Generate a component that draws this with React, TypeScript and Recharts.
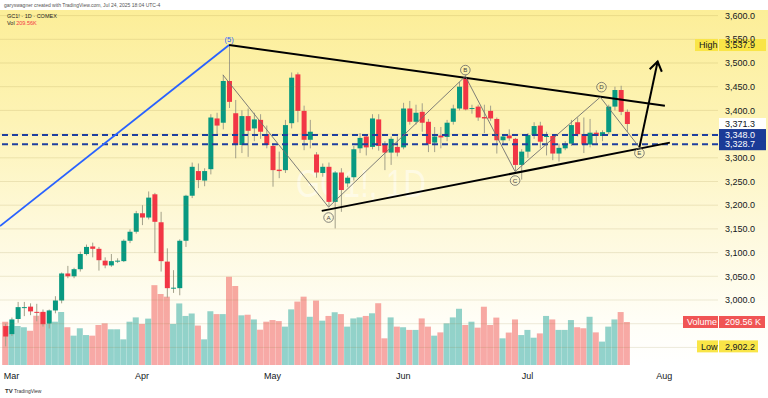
import React from 'react';
import { ComposedChart, Bar, XAxis, YAxis, ReferenceLine, ReferenceDot, Cell } from 'recharts';

// ---------- data (daily bars, index 0 = Feb 28 2025 ... 100 = Jul 24 2025) ----------
const openP = [
  2945, 2928, 2960, 2983, 2986, 2975, 2975, 2950, 2978, 2999,
  3056, 3050, 3065, 3097, 3113, 3108, 3083, 3073, 3081, 3082,
  3125, 3144, 3183, 3174, 3223, 3164, 3081, 3024, 3025, 3125,
  3220, 3272, 3252, 3276, 3383, 3374, 3462, 3394, 3327, 3388,
  3362, 3380, 3350, 3325, 3275, 3274, 3373, 3476, 3399, 3338,
  3307, 3268, 3281, 3207, 3269, 3246, 3259, 3320, 3345, 3323,
  3381, 3327, 3311, 3323, 3322, 3404, 3376, 3397, 3376, 3332,
  3347, 3344, 3376, 3404, 3468, 3403, 3408, 3386, 3399, 3382,
  3337, 3347, 3340, 3285, 3313, 3348, 3368, 3345, 3346, 3309,
  3320, 3330, 3375, 3350, 3328, 3353, 3346, 3354, 3408, 3443,
  3397,
];
const highP = [
  2950, 2963, 2996, 2996, 2993, 2992, 2980, 2980, 3008, 3058,
  3072, 3068, 3102, 3117, 3121, 3112, 3090, 3097, 3088, 3128,
  3149, 3188, 3200, 3229, 3226, 3186, 3109, 3063, 3128, 3222,
  3290, 3288, 3278, 3392, 3395, 3475, 3537.9, 3422, 3400, 3404,
  3395, 3392, 3368, 3330, 3313, 3380, 3480, 3480, 3410, 3380,
  3312, 3288, 3290, 3272, 3278, 3262, 3325, 3352, 3350, 3392,
  3392, 3335, 3345, 3345, 3416, 3420, 3412, 3415, 3382, 3365,
  3365, 3380, 3412, 3460, 3476, 3412, 3412, 3412, 3410, 3385,
  3350, 3360, 3342, 3318, 3352, 3375, 3376, 3355, 3350, 3330,
  3335, 3380, 3385, 3385, 3382, 3358, 3358, 3412, 3450, 3452,
  3402,
];
const lowP = [
  2902.2, 2924, 2952, 2966, 2968, 2955, 2944, 2940, 2972, 2993,
  3046, 3046, 3060, 3094, 3090, 3062, 3067, 3070, 3078, 3080,
  3120, 3140, 3158, 3170, 3099, 3060, 3005, 3015, 3010, 3112,
  3215, 3236, 3240, 3265, 3350, 3360, 3405, 3299, 3310, 3302,
  3335, 3340, 3320, 3239, 3257, 3268, 3362, 3375, 3316, 3320,
  3258, 3260, 3196, 3151, 3186, 3238, 3252, 3310, 3305, 3318,
  3315, 3274, 3285, 3303, 3318, 3370, 3370, 3355, 3312, 3312,
  3320, 3335, 3370, 3400, 3400, 3393, 3378, 3352, 3378, 3309,
  3330, 3336, 3271, 3254, 3300, 3340, 3320, 3305, 3295, 3292,
  3316, 3325, 3345, 3310, 3322, 3330, 3335, 3350, 3400, 3390,
  3355,
];
const closeP = [
  2923, 2959, 2985, 2985, 2976, 2973, 2949, 2978, 2999, 3056,
  3050, 3065, 3097, 3112, 3108, 3084, 3073, 3082, 3083, 3125,
  3144, 3183, 3174, 3216, 3165, 3082, 3025, 3026, 3125, 3220,
  3281, 3253, 3272, 3385, 3368, 3462, 3418, 3327, 3388, 3357,
  3381, 3355, 3327, 3274, 3272, 3369, 3469, 3399, 3338, 3355,
  3269, 3281, 3207, 3269, 3232, 3258, 3318, 3342, 3322, 3383,
  3325, 3311, 3340, 3311, 3404, 3376, 3395, 3374, 3329, 3345,
  3343, 3374, 3404, 3450, 3402, 3405, 3385, 3383, 3383, 3337,
  3345, 3341, 3285, 3313, 3348, 3367, 3334, 3346, 3309, 3321,
  3330, 3369, 3350, 3328, 3353, 3346, 3354, 3408, 3443, 3397,
  3371.3,
];
const volumeK = [
  211, 190, 190, 184, 167, 240, 257, 200, 211, 258,
  184, 143, 179, 146, 143, 195, 203, 174, 174, 125,
  211, 232, 200, 226, 389, 346, 333, 200, 300, 239,
  251, 192, 125, 262, 248, 248, 430, 385, 242, 245,
  222, 172, 211, 219, 214, 187, 271, 309, 333, 235,
  314, 216, 239, 257, 248, 187, 227, 232, 239, 252,
  301, 130, 232, 187, 184, 171, 171, 227, 187, 143,
  159, 203, 232, 274, 195, 211, 182, 284, 195, 231,
  130, 158, 222, 146, 171, 133, 154, 239, 222, 171,
  171, 219, 184, 179, 235, 159, 114, 187, 222, 258,
  209.56,
];

const monthTickIdx = [1, 22, 43, 64, 84, 106];
const monthTickLabel = ['Mar', 'Apr', 'May', 'Jun', 'Jul', 'Aug'];
const priceTicks = [3000, 3050, 3100, 3150, 3200, 3250, 3300, 3400, 3450, 3500, 3550, 3600];
const gridPrices = [2900, 2950, 3000, 3050, 3100, 3150, 3200, 3250, 3300, 3350, 3400, 3450, 3500, 3550, 3600];
const dashedLevels = [3348.0, 3328.7];
const lastPrice = 3371.3;
const highPrice = 3537.9;
const lowPrice = 2902.2;
const lastVolume = 209.56;

// drawings (bar index, price)
const wave5Line = [{ x: -0.85, y: 3156 }, { x: 36, y: 3537.9 }];
const upperTrend = [{ x: 36, y: 3537.9 }, { x: 106.1, y: 3410 }];
const lowerTrend = [{ x: 50.9, y: 3188 }, { x: 106.9, y: 3332 }];
const zigzag = [
  { x: 35, y: 3475 }, { x: 52, y: 3196 }, { x: 74, y: 3472 },
  { x: 82, y: 3271 }, { x: 95.7, y: 3428 }, { x: 102, y: 3322 },
];
const waveLabels = [
  { x: 52, y: 3174, t: 'A' }, { x: 74, y: 3485, t: 'B' }, { x: 82, y: 3252, t: 'C' },
  { x: 95.9, y: 3449, t: 'D' }, { x: 102, y: 3310, t: 'E' },
];
const arrowLine = [{ x: 102, y: 3322 }, { x: 104.93, y: 3503 }];
const wave5Label = { x: 36, y: 3550, t: '(5)' };

const X_DOMAIN: [number, number] = [-0.8525, 114.64];
const Y_DOMAIN: [number, number] = [2862.9, 3611.8];
const VOL_DOMAIN: [number, number] = [0, 1730];

const GREEN = '#089981';
const RED = '#f23645';
const WICK = '#a3a08a';
const FONT = '"Liberation Sans", Arial, sans-serif';

const data = openP.map((o, i) => ({
  i, o, h: highP[i], l: lowP[i], c: closeP[i], v: volumeK[i],
}));

const fmt = (v: number) =>
  v.toLocaleString('en-US', { minimumFractionDigits: 1, maximumFractionDigits: 1 });

const Candle = (props: any) => {
  const { x, y, width, height } = props;
  const d = props.payload || props;
  const { o, h, l, c } = d;
  const up = c >= o;
  const k = height / (h - l || 1);
  const py = (p: number) => y + (h - p) * k;
  const cx = x + width / 2;
  const top = py(Math.max(o, c));
  const bot = py(Math.min(o, c));
  return (
    <g>
      <line x1={cx} x2={cx} y1={y} y2={y + height} stroke={WICK} strokeWidth={1} />
      <rect x={x} y={top} width={width} height={Math.max(1, bot - top)} fill={up ? GREEN : RED} />
    </g>
  );
};

const PriceTick = (props: any) => {
  const { x, y, payload } = props;
  return (
    <text x={x} y={y} dy={3.2} fontSize={9} fill="#131722" fontFamily={FONT} textAnchor="start">
      {fmt(payload.value)}
    </text>
  );
};

const DateTick = (props: any) => {
  const { x, y, payload } = props;
  const idx = monthTickIdx.indexOf(payload.value);
  return (
    <text x={x} y={y + 14} fontSize={9} fill="#131722" fontFamily={FONT} textAnchor="middle">
      {monthTickLabel[idx]}
    </text>
  );
};

const TwoPartTag = (props: any) => {
  const { viewBox, name, value, bg, fg, nameStart, valueEnd } = props;
  if (!viewBox) return null;
  const right = viewBox.x + viewBox.width;
  const cy = viewBox.y;
  return (
    <g>
      {name ? (
        <rect x={right + nameStart} y={cy - 6} width={-nameStart} height={12} fill={bg} />
      ) : null}
      <rect x={right + 1} y={cy - 6} width={valueEnd} height={12} fill={bg} />
      {name ? (
        <text x={right + nameStart + 4} y={cy + 3.2} fontSize={9} fill={fg} fontFamily={FONT}>
          {name}
        </text>
      ) : null}
      <text x={right + 7} y={cy + 3.2} fontSize={9} fill={fg} fontFamily={FONT}>
        {value}
      </text>
    </g>
  );
};

const ArrowShape = (p: any) => {
  const { x1, y1, x2, y2 } = p;
  const ang = Math.atan2(y2 - y1, x2 - x1);
  const L = 11;
  const a = 0.6;
  const ax1 = x2 - L * Math.cos(ang - a);
  const ay1 = y2 - L * Math.sin(ang - a);
  const ax2 = x2 - L * Math.cos(ang + a);
  const ay2 = y2 - L * Math.sin(ang + a);
  return (
    <g>
      <line x1={x1} y1={y1} x2={x2} y2={y2} stroke="#000" strokeWidth={2} />
      <polyline points={`${ax1},${ay1} ${x2},${y2} ${ax2},${ay2}`} fill="none" stroke="#000" strokeWidth={2} />
    </g>
  );
};

const circleLetter = (t: string) => (p: any) => (
  <g>
    <circle cx={p.cx} cy={p.cy} r={4.8} fill="none" stroke="#666" strokeWidth={0.8} />
    <text x={p.cx} y={p.cy + 2.2} fontSize={6.2} fill="#444" textAnchor="middle" fontFamily={FONT}>{t}</text>
  </g>
);

const wave5Shape = (p: any) => (
  <text x={p.cx} y={p.cy + 2.5} fontSize={7.5} fill="#2962ff" textAnchor="middle" fontFamily={FONT}>
    {wave5Label.t}
  </text>
);

export default function App() {
  const zigSegs = zigzag.slice(0, -1).map((pt, k) => [pt, zigzag[k + 1]]);
  return (
    <div style={{ position: 'absolute', left: 0, top: 0, width: 768, height: 398, background: '#fff', overflow: 'hidden', fontFamily: FONT }}>
      <div style={{ position: 'absolute', left: 0, top: 10, width: 768, height: 355, background: 'linear-gradient(to bottom, #fcee98 0%, #fdf3b4 30%, #fef9dc 62%, #fffef7 88%, #ffffff 100%)' }} />
      <svg width={768} height={398} style={{ position: 'absolute', left: 0, top: 0 }}>
        <text x={361} y={197} fontSize={38} fill="#ffffff" fillOpacity={0.5} textAnchor="middle" fontFamily={FONT} transform="translate(361 0) scale(0.82 1) translate(-361 0)">GC1!, 1D</text>
      </svg>
      <div style={{ position: 'absolute', left: 0, top: 0 }}>
        <ComposedChart width={768} height={398} data={data} margin={{ top: 10, right: 0, bottom: 0, left: 0 }}>
          <XAxis xAxisId="main" type="number" dataKey="i" domain={X_DOMAIN} allowDataOverflow ticks={monthTickIdx} interval={0}
            height={33} tickSize={0} tickMargin={0} axisLine={false} tickLine={false} tick={<DateTick />} />
          <XAxis xAxisId="vol" type="number" dataKey="i" domain={X_DOMAIN} allowDataOverflow hide />
          <YAxis yAxisId="price" orientation="right" type="number" domain={Y_DOMAIN} allowDataOverflow ticks={priceTicks} interval={0}
            width={50} tickSize={0} tickMargin={7} axisLine={false} tickLine={false} tick={<PriceTick />} />
          <YAxis yAxisId="vol" type="number" domain={VOL_DOMAIN} allowDataOverflow hide />

          {gridPrices.map((g) => (
            <ReferenceLine key={'g' + g} xAxisId="main" yAxisId="price" y={g} stroke="#8c7a32" strokeOpacity={0.16} strokeWidth={1} />
          ))}

          <Bar xAxisId="vol" yAxisId="vol" dataKey="v" barSize={6} isAnimationActive={false}>
            {data.map((d) => (
              <Cell key={'v' + d.i} fill={d.c >= d.o ? '#26a69a' : '#ef5350'} fillOpacity={0.5} />
            ))}
          </Bar>

          {dashedLevels.map((lv) => (
            <ReferenceLine key={'d' + lv} xAxisId="main" yAxisId="price" y={lv} stroke="#1f3f9f" strokeWidth={2} strokeDasharray="6 4" />
          ))}

          <Bar xAxisId="main" yAxisId="price" dataKey={(d: any) => [d.l, d.h]} barSize={5} isAnimationActive={false}
            shape={(p: any) => <Candle {...p} />} />

          <ReferenceLine xAxisId="main" yAxisId="price" segment={wave5Line} stroke="#2962ff" strokeWidth={1.8} ifOverflow="visible" />
          <ReferenceLine xAxisId="main" yAxisId="price" segment={upperTrend} stroke="#000" strokeWidth={2} ifOverflow="visible" />
          <ReferenceLine xAxisId="main" yAxisId="price" segment={lowerTrend} stroke="#000" strokeWidth={2} ifOverflow="visible" />
          {zigSegs.map((s, k) => (
            <ReferenceLine key={'z' + k} xAxisId="main" yAxisId="price" segment={s} stroke="#6f6f6f" strokeWidth={0.9} ifOverflow="visible" />
          ))}
          <ReferenceLine xAxisId="main" yAxisId="price" segment={arrowLine} ifOverflow="visible" shape={ArrowShape} />

          {waveLabels.map((w) => (
            <ReferenceDot key={'w' + w.t} xAxisId="main" yAxisId="price" x={w.x} y={w.y} r={4} ifOverflow="visible" shape={circleLetter(w.t)} />
          ))}
          <ReferenceDot xAxisId="main" yAxisId="price" x={wave5Label.x} y={wave5Label.y} r={3} ifOverflow="visible" shape={wave5Shape} />

          <ReferenceLine xAxisId="main" yAxisId="price" y={highPrice} stroke="none" ifOverflow="visible"
            label={<TwoPartTag name="High" value={fmt(highPrice)} bg="#f9e547" fg="#131722" nameStart={-23} valueEnd={47} />} />
          <ReferenceLine xAxisId="main" yAxisId="price" y={lastPrice} stroke="none" ifOverflow="visible"
            label={<TwoPartTag value={fmt(lastPrice)} bg="#ffffff" fg="#131722" valueEnd={47} />} />
          <ReferenceLine xAxisId="main" yAxisId="price" y={dashedLevels[1]} stroke="none" ifOverflow="visible"
            label={<TwoPartTag value={fmt(dashedLevels[1])} bg="#1b3b97" fg="#ffffff" valueEnd={47} />} />
          <ReferenceLine xAxisId="main" yAxisId="price" y={dashedLevels[0]} stroke="none" ifOverflow="visible"
            label={<TwoPartTag value={fmt(dashedLevels[0])} bg="#1b3b97" fg="#ffffff" valueEnd={47} />} />
          <ReferenceLine xAxisId="main" yAxisId="vol" y={lastVolume} stroke="none" ifOverflow="visible"
            label={<TwoPartTag name="Volume" value={lastVolume.toFixed(2) + ' K'} bg="#f05454" fg="#ffffff" nameStart={-35} valueEnd={46} />} />
          <ReferenceLine xAxisId="main" yAxisId="price" y={lowPrice} stroke="none" ifOverflow="visible"
            label={<TwoPartTag name="Low" value={fmt(lowPrice)} bg="#f9e547" fg="#131722" nameStart={-21} valueEnd={39} />} />
        </ComposedChart>
      </div>
      <div style={{ position: 'absolute', left: 4, top: 2, fontSize: 5, color: '#555', whiteSpace: 'nowrap', lineHeight: '6px' }}>
        garyswagner created with TradingView.com, Jul 24, 2025 18:04 UTC-4
      </div>
      <div style={{ position: 'absolute', left: 7, top: 12.5, fontSize: 5.5, color: '#222', whiteSpace: 'nowrap', lineHeight: '7px' }}>
        GC1! · 1D · COMEX
      </div>
      <div style={{ position: 'absolute', left: 7, top: 19.5, fontSize: 5.5, color: '#222', whiteSpace: 'nowrap', lineHeight: '7px' }}>
        Vol <span style={{ color: '#f23645' }}>209.56K</span>
      </div>
      <div style={{ position: 'absolute', left: 5, top: 388, fontSize: 5, color: '#333', whiteSpace: 'nowrap', lineHeight: '7px' }}>
        <b style={{ fontSize: 6 }}>TV</b> TradingView
      </div>
    </div>
  );
}
